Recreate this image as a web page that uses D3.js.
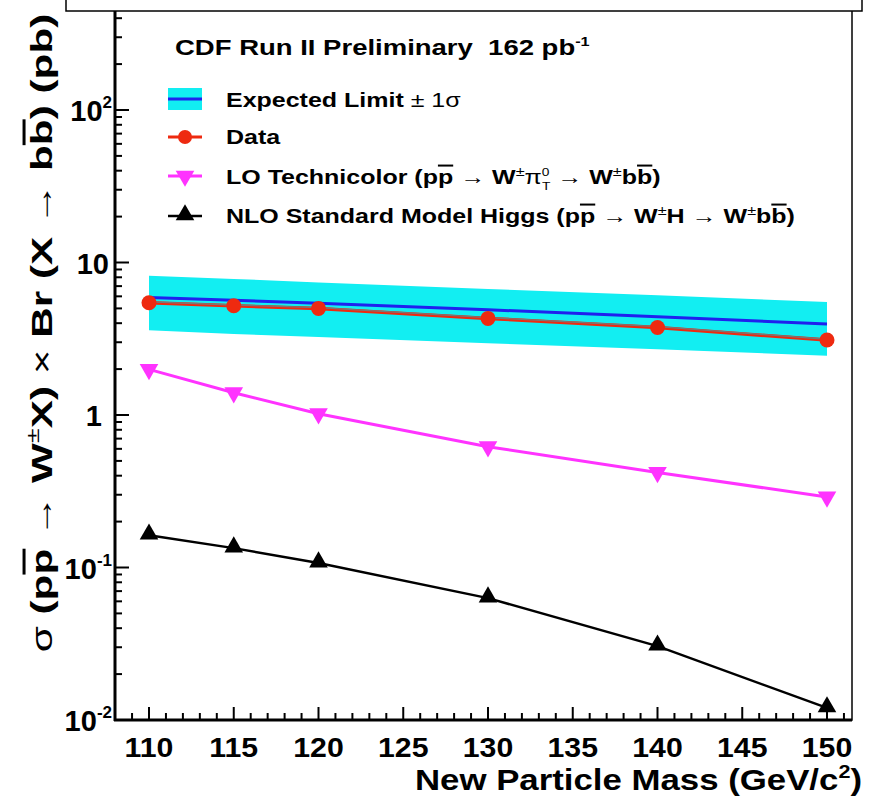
<!DOCTYPE html>
<html>
<head>
<meta charset="utf-8">
<script src="https://cdn.jsdelivr.net/npm/d3@7"></script>
<style>
  body { margin: 0; background: #fff; }
  text { font-family: "Liberation Sans", Arial, sans-serif; font-weight: bold; white-space: pre; }
</style>
</head>
<body>
<div id="chart"></div>
<script>
// masses (GeV/c^2)
const masses = [110, 115, 120, 130, 140, 150];
// expected limit and its +-1 sigma band (pb)
const expected = [5.9, 5.65, 5.4, 4.9, 4.4, 3.95];
const bandHigh = [8.2, 7.8, 7.4, 6.7, 6.1, 5.5];
const bandLow = [3.6, 3.4, 3.25, 2.95, 2.7, 2.45];
// observed limit
const observed = [5.45, 5.2, 5.0, 4.3, 3.75, 3.1];
// LO technicolor
const technicolor = [1.99, 1.4, 1.02, 0.62, 0.42, 0.29];
// NLO SM Higgs
const higgs = [0.163, 0.134, 0.107, 0.063, 0.0305, 0.012];

const xTickLabels = [110, 115, 120, 125, 130, 135, 140, 145, 150];
const yDecades = [0.01, 0.1, 1, 10, 100];

const width = 872, height = 798;
const left = 115, right = 852, bottom = 720;
const stretch = 1.25; // the reference text is drawn wide

const svg = d3.select("#chart").append("svg")
  .attr("width", width)
  .attr("height", height);

const x = d3.scaleLinear().domain([110, 150]).range([149, 827]);
const y = d3.scaleLog().domain([0.01, 100]).range([bottom, 110]);

const cyan = "#12eef2";
const blue = "#1f22ee";
const red = "#ee2a10";
const magenta = "#ff33ff";

// band
const area = d3.area()
  .x((d, i) => x(masses[i]))
  .y0((d, i) => y(bandLow[i]))
  .y1((d, i) => y(bandHigh[i]));
svg.append("path")
  .datum(masses)
  .attr("d", area)
  .attr("fill", cyan);

const line = vals => d3.line()
  .x((d, i) => x(masses[i]))
  .y((d, i) => y(vals[i]))(masses);

// expected line
svg.append("path").attr("d", line(expected))
  .attr("fill", "none").attr("stroke", blue).attr("stroke-width", 3);

// observed (red with grey core)
svg.append("path").attr("d", line(observed))
  .attr("fill", "none").attr("stroke", red).attr("stroke-width", 3.5);
svg.append("path").attr("d", line(observed))
  .attr("fill", "none").attr("stroke", "#777").attr("stroke-width", 1.3)
  .attr("transform", "translate(0,-0.8)");
svg.selectAll(".obs").data(masses).enter().append("circle")
  .attr("cx", d => x(d))
  .attr("cy", (d, i) => y(observed[i]))
  .attr("r", 7.5)
  .attr("fill", red);

// technicolor
svg.append("path").attr("d", line(technicolor))
  .attr("fill", "none").attr("stroke", magenta).attr("stroke-width", 3);
const tri = d3.symbol().type(d3.symbolTriangle).size(150);
svg.selectAll(".tc").data(masses).enter().append("path")
  .attr("d", tri)
  .attr("transform", (d, i) => `translate(${x(d)},${y(technicolor[i])}) rotate(180)`)
  .attr("fill", magenta);

// higgs
svg.append("path").attr("d", line(higgs))
  .attr("fill", "none").attr("stroke", "#000").attr("stroke-width", 2.5);
svg.selectAll(".h").data(masses).enter().append("path")
  .attr("d", tri)
  .attr("transform", (d, i) => `translate(${x(d)},${y(higgs[i]) - 1})`)
  .attr("fill", "#000");

// frame
const frameTop = y(600);
svg.append("rect")
  .attr("x", left).attr("y", frameTop)
  .attr("width", right - left).attr("height", bottom - frameTop)
  .attr("fill", "none").attr("stroke", "#000").attr("stroke-width", 1.5);
svg.append("line").attr("x1", left).attr("x2", left).attr("y1", frameTop).attr("y2", bottom + 1)
  .attr("stroke", "#000").attr("stroke-width", 3);
svg.append("line").attr("x1", left - 1).attr("x2", right).attr("y1", bottom).attr("y2", bottom)
  .attr("stroke", "#000").attr("stroke-width", 3);

// x ticks
const xMinor = d3.range(109, 152, 1);
svg.selectAll(".xt").data(xMinor).enter().append("line")
  .attr("x1", d => x(d)).attr("x2", d => x(d))
  .attr("y1", bottom)
  .attr("y2", d => bottom - (d % 5 === 0 ? 13 : 7))
  .attr("stroke", "#000").attr("stroke-width", 2);
svg.selectAll(".xl").data(xTickLabels).enter().append("text")
  .attr("transform", d => `translate(${x(d)},757) scale(1.08,1)`)
  .attr("text-anchor", "middle")
  .attr("font-size", 28)
  .text(d => d);

// y ticks
const yMinor = [];
yDecades.slice(0, -1).forEach(d => {
  for (let k = 1; k <= 9; k++) yMinor.push({ v: d * k, major: k === 1 });
});
for (let k = 1; k <= 5; k++) yMinor.push({ v: 100 * k, major: k === 1 });
svg.selectAll(".yt").data(yMinor).enter().append("line")
  .attr("x1", left).attr("x2", d => left + (d.major ? 14 : 7))
  .attr("y1", d => y(d.v)).attr("y2", d => y(d.v))
  .attr("stroke", "#000").attr("stroke-width", 2);

const yLab = svg.selectAll(".yl").data(yDecades).enter().append("text")
  .attr("x", d => d === 1 ? 102 : d === 10 ? 109 : 112)
  .attr("y", d => y(d) + 11)
  .attr("text-anchor", "end")
  .attr("font-size", 29);
yLab.each(function(d) {
  const t = d3.select(this);
  if (d === 1 || d === 10) { t.text(d); return; }
  t.append("tspan").text("10");
  t.append("tspan").attr("dy", -13).attr("font-size", 17).text(Math.log10(d));
});

// top box
svg.append("rect")
  .attr("x", 66).attr("y", -20).attr("width", 796).attr("height", 31)
  .attr("fill", "#fff").attr("stroke", "#000").attr("stroke-width", 1.5);

// axis titles
const xt = svg.append("text")
  .attr("transform", `translate(862,790) scale(1.2,1)`)
  .attr("text-anchor", "end")
  .attr("font-size", 29);
xt.append("tspan").text("New Particle Mass (GeV/c");
xt.append("tspan").attr("dy", -12).attr("font-size", 18).text("2");
xt.append("tspan").attr("dy", 12).text(")");

const yt = svg.append("text")
  .attr("transform", "translate(52,333) rotate(-90) scale(1.41,1)")
  .attr("text-anchor", "middle")
  .attr("font-size", 30);
yt.append("tspan").attr("font-weight", "normal").text("σ");
yt.append("tspan").text(" (p");
yt.append("tspan").style("text-decoration", "overline").text("p");
yt.append("tspan").attr("font-weight", "normal").text(" → ");
yt.append("tspan").text("W");
yt.append("tspan").attr("dy", -13).attr("font-size", 19).attr("font-weight", "normal").text("±");
yt.append("tspan").attr("dy", 13).text("X) ");
yt.append("tspan").attr("font-weight", "normal").text("×");
yt.append("tspan").text(" Br (X ");
yt.append("tspan").attr("font-weight", "normal").text("→");
yt.append("tspan").text(" b");
yt.append("tspan").style("text-decoration", "overline").text("b");
yt.append("tspan").text(") (pb)");

// header
const hd = svg.append("text")
  .attr("transform", `translate(175,55) scale(${stretch},1)`)
  .attr("font-size", 22);
hd.append("tspan").text("CDF Run II Preliminary  162 pb");
hd.append("tspan").attr("dy", -9).attr("font-size", 13).text("-1");

// legend
const lx = 168, lw = 34, tx = 226;
const legendText = yy => svg.append("text")
  .attr("transform", `translate(${tx},${yy}) scale(${stretch},1)`)
  .attr("font-size", 20);

svg.append("rect").attr("x", lx).attr("y", 88).attr("width", lw).attr("height", 22).attr("fill", cyan);
svg.append("line").attr("x1", lx).attr("x2", lx + lw).attr("y1", 99).attr("y2", 99)
  .attr("stroke", blue).attr("stroke-width", 3);
const t1 = legendText(107);
t1.append("tspan").text("Expected Limit ");
t1.append("tspan").attr("font-weight", "normal").text("± 1σ");

svg.append("line").attr("x1", lx).attr("x2", lx + lw).attr("y1", 137).attr("y2", 137)
  .attr("stroke", red).attr("stroke-width", 3);
svg.append("circle").attr("cx", lx + lw / 2).attr("cy", 137).attr("r", 7).attr("fill", red);
legendText(144).text("Data");

svg.append("line").attr("x1", lx).attr("x2", lx + lw).attr("y1", 176).attr("y2", 176)
  .attr("stroke", magenta).attr("stroke-width", 3);
svg.append("path").attr("d", tri)
  .attr("transform", `translate(${lx + lw / 2},176) rotate(180)`).attr("fill", magenta);
const t3 = legendText(184);
t3.append("tspan").text("LO Technicolor (p");
t3.append("tspan").style("text-decoration", "overline").text("p");
t3.append("tspan").attr("font-weight", "normal").text(" → ");
t3.append("tspan").text("W");
t3.append("tspan").attr("dy", -8).attr("font-size", 13).attr("font-weight", "normal").text("±");
t3.append("tspan").attr("dy", 8).attr("font-weight", "normal").text("π");
t3.append("tspan").attr("dy", -8).attr("font-size", 11).attr("font-weight", "normal").text("0");
t3.append("tspan").attr("dx", -6).attr("dy", 14).attr("font-size", 11).attr("font-weight", "normal").text("T");
t3.append("tspan").attr("dy", -6).attr("font-weight", "normal").text(" → ");
t3.append("tspan").text("W");
t3.append("tspan").attr("dy", -8).attr("font-size", 13).attr("font-weight", "normal").text("±");
t3.append("tspan").attr("dy", 8).text("b");
t3.append("tspan").style("text-decoration", "overline").text("b");
t3.append("tspan").text(")");

svg.append("line").attr("x1", lx).attr("x2", lx + lw).attr("y1", 216).attr("y2", 216)
  .attr("stroke", "#000").attr("stroke-width", 2.5);
svg.append("path").attr("d", tri)
  .attr("transform", `translate(${lx + lw / 2},215)`).attr("fill", "#000");
const t4 = legendText(223);
t4.append("tspan").text("NLO Standard Model Higgs (p");
t4.append("tspan").style("text-decoration", "overline").text("p");
t4.append("tspan").attr("font-weight", "normal").text(" → ");
t4.append("tspan").text("W");
t4.append("tspan").attr("dy", -8).attr("font-size", 13).attr("font-weight", "normal").text("±");
t4.append("tspan").attr("dy", 8).text("H");
t4.append("tspan").attr("font-weight", "normal").text(" → ");
t4.append("tspan").text("W");
t4.append("tspan").attr("dy", -8).attr("font-size", 13).attr("font-weight", "normal").text("±");
t4.append("tspan").attr("dy", 8).text("b");
t4.append("tspan").style("text-decoration", "overline").text("b");
t4.append("tspan").text(")");
</script>
</body>
</html>
